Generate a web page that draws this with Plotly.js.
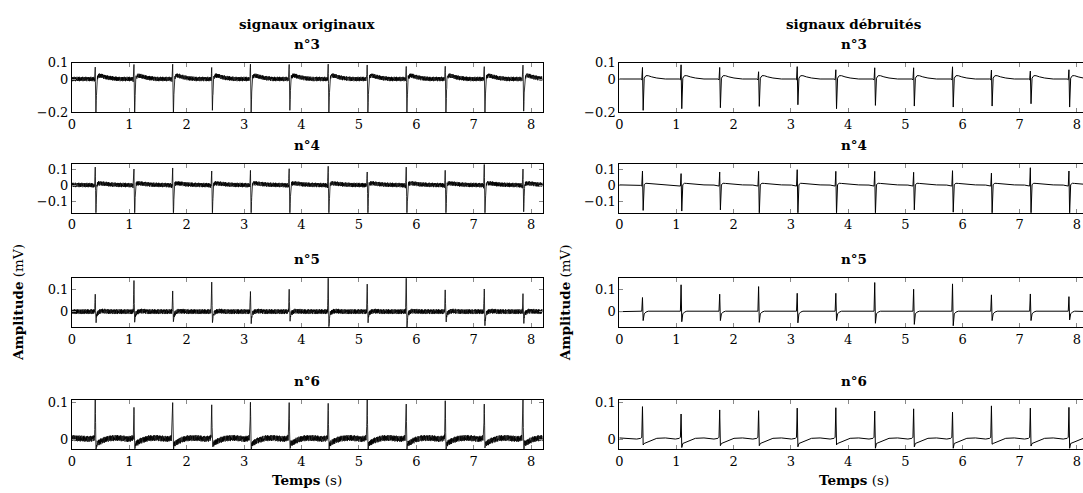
<!DOCTYPE html>
<html><head><meta charset="utf-8">
<script src="https://cdn.plot.ly/plotly-3.0.1.min.js"></script>
<style>html,body{margin:0;padding:0;overflow:hidden;background:#fff}#chart{width:1090px;height:493px}</style>
</head><body><div id="chart"></div>
<script>
// ---- data ----
const beatTimes = [0.405, 1.08, 1.755, 2.435, 3.11, 3.785, 4.465, 5.145, 5.825, 6.505, 7.185, 7.86];
const panelTitles = ["n°3", "n°4", "n°5", "n°6"];
const colTitles = ["signaux originaux", "signaux débruités"];
const xTickVals = [0, 1, 2, 3, 4, 5, 6, 7, 8];

// beat shape offsets (s) around each beat; index 3 = R peak, index 4 = S trough
const waveOffsets = [-0.10, -0.03, -0.012, 0, 0.012, 0.03, 0.06, 0.10, 0.16, 0.25, 0.40];
const waveN3 = [0, 0, -0.005, null, null, 0.005, 0.020, 0.020, 0.013, 0.006, 0.0];
const waveN4 = [0.002, 0, -0.004, null, null, 0.005, 0.013, 0.012, 0.010, 0.006, 0.003];
const waveN5 = [0, 0, 0.002, null, null, -0.010, -0.002, 0.002, 0.002, 0.0, 0.0];
const waveN6 = [0, 0.002, 0.005, null, null, -0.012, -0.010, -0.006, -0.002, 0.002, 0.003];

// R / S amplitudes (mV), original signals
const origR3 = [0.060, 0.088, 0.090, 0.070, 0.090, 0.088, 0.090, 0.085, 0.076, 0.077, 0.072, 0.084];
const origS3 = [-0.21, -0.21, -0.21, -0.19, -0.21, -0.19, -0.21, -0.20, -0.21, -0.21, -0.21, -0.195];
const origR4 = [0.112, 0.088, 0.096, 0.088, 0.092, 0.102, 0.117, 0.082, 0.112, 0.088, 0.125, 0.100];
const origS4 = [-0.18, -0.18, -0.18, -0.18, -0.18, -0.18, -0.18, -0.18, -0.18, -0.18, -0.18, -0.16];
const origR5 = [0.078, 0.139, 0.090, 0.132, 0.090, 0.100, 0.155, 0.123, 0.155, 0.094, 0.094, 0.072];
const origS5 = [-0.049, -0.045, -0.045, -0.040, -0.045, -0.040, -0.067, -0.045, -0.067, -0.045, -0.052, -0.050];
const origR6 = [0.110, 0.086, 0.099, 0.093, 0.100, 0.099, 0.097, 0.099, 0.095, 0.104, 0.095, 0.104];
const origS6 = [-0.024, -0.026, -0.026, -0.021, -0.025, -0.025, -0.027, -0.025, -0.025, -0.025, -0.016, -0.027];

// R / S amplitudes (mV), denoised signals
const denR3 = [0.070, 0.086, 0.070, 0.044, 0.075, 0.056, 0.068, 0.068, 0.074, 0.054, 0.048, 0.056];
const denS3 = [-0.19, -0.18, -0.174, -0.166, -0.156, -0.18, -0.16, -0.164, -0.17, -0.164, -0.15, -0.17];
const denR4 = [0.088, 0.072, 0.082, 0.086, 0.096, 0.086, 0.086, 0.080, 0.090, 0.075, 0.108, 0.088];
const denS4 = [-0.153, -0.157, -0.150, -0.175, -0.175, -0.175, -0.175, -0.150, -0.164, -0.175, -0.175, -0.175];
const denR5 = [0.063, 0.120, 0.078, 0.112, 0.082, 0.082, 0.130, 0.100, 0.124, 0.075, 0.079, 0.067];
const denS5 = [-0.040, -0.045, -0.040, -0.048, -0.050, -0.040, -0.052, -0.057, -0.063, -0.040, -0.040, -0.037];
const denR6 = [0.088, 0.068, 0.079, 0.077, 0.084, 0.085, 0.076, 0.082, 0.073, 0.090, 0.084, 0.086];
const denS6 = [-0.016, -0.023, -0.018, -0.018, -0.021, -0.016, -0.025, -0.021, -0.025, -0.014, -0.019, -0.025];

// typical baseline noise excursions (fraction of band half-width), and band half-width per lead (mV)
const noiseSample = [0.3,-0.5,0.8,-0.2,-0.9,0.4,0.1,-0.6,0.7,-0.1,0.5,-0.8,0.2,0.9,-0.4,-0.3,0.6,-0.7,0.0,0.4,
  -0.9,0.8,-0.2,0.3,-0.5,0.1,0.7,-0.6,-0.1,0.9,-0.3,0.5,-0.8,0.2,-0.4,0.6,0.0,-0.7,0.8,-0.5,
  0.3,-0.2,0.9,-0.9,0.4,0.1,-0.3,0.7,-0.6,0.2,-0.1,0.5,-0.8,0.6,0.3,-0.4,0.0,0.8,-0.7,-0.2,
  0.4,-0.5,0.9,0.1,-0.9,0.6,-0.3,0.2,0.7,-0.6,0.5,-0.1,-0.8,0.3,0.8,-0.4,0.1,-0.7,0.6,-0.2,
  0.9,-0.5,0.0,0.4,-0.3,0.7,-0.9,0.2,0.5,-0.6,0.3,-0.1,0.8,-0.4,0.1,-0.8,0.6];
const noiseBand = [0.015, 0.015, 0.012, 0.009];

const yRanges = [[-0.2, 0.1], [-0.167, 0.129], [-0.07, 0.149], [-0.027, 0.106]];
const yTickVals = [[-0.2, 0, 0.1], [-0.1, 0, 0.1], [0, 0.1], [0, 0.1]];
const xRange = [0, 8.2];

// ---- build traces ----
const waves = [waveN3, waveN4, waveN5, waveN6];
const origR = [origR3, origR4, origR5, origR6], origS = [origS3, origS4, origS5, origS6];
const denR = [denR3, denR4, denR5, denR6], denS = [denS3, denS4, denS5, denS6];

function knots(wave, R, S) {
  const xs = [0], ys = [wave[wave.length - 1]];
  beatTimes.forEach((bt, b) => {
    waveOffsets.forEach((o, k) => {
      xs.push(bt + o);
      ys.push(k === 3 ? R[b] : (k === 4 ? S[b] : wave[k]));
    });
  });
  xs.push(xRange[1]); ys.push(wave[wave.length - 1]);
  return {xs, ys};
}
function valueAt(kn, t) {
  let i = 1;
  while (i < kn.xs.length - 1 && kn.xs[i] < t) i++;
  const x0 = kn.xs[i - 1], x1 = kn.xs[i];
  const f = x1 > x0 ? (t - x0) / (x1 - x0) : 0;
  return kn.ys[i - 1] + f * (kn.ys[i] - kn.ys[i - 1]);
}
function noisy(kn, band, shift) {
  const pts = [];
  kn.xs.forEach((x, i) => pts.push([x, kn.ys[i]]));
  const step = 0.003;
  for (let i = 0; i * step <= xRange[1]; i++) {
    const t = i * step;
    pts.push([t, valueAt(kn, t) + band * noiseSample[(i + shift) % noiseSample.length]]);
  }
  pts.sort((a, b) => a[0] - b[0]);
  return {x: pts.map(p => p[0]), y: pts.map(p => p[1])};
}

const W = 1090, H = 493;
const colX = [[72, 542.5], [619.3, 1088.4]];
const rowY = [[62.5, 112], [164.3, 212.7], [278.3, 327.3], [400, 449]];
const FONT = "DejaVu Serif, Liberation Serif, serif";
const TFS = 13;     // tick labels
const HFS = 13.5;   // bold titles / axis labels

const data = [], layout = {
  width: W, height: H, margin: {l: 0, r: 0, t: 0, b: 0, pad: 0},
  paper_bgcolor: "#fff", plot_bgcolor: "#fff", showlegend: false,
  font: {family: FONT, size: TFS, color: "#000"}, annotations: []
};

for (let r = 0; r < 4; r++) {
  for (let c = 0; c < 2; c++) {
    const k = r * 2 + c + 1;
    const xa = "xaxis" + (k === 1 ? "" : k), ya = "yaxis" + (k === 1 ? "" : k);
    const xr = "x" + (k === 1 ? "" : k), yr = "y" + (k === 1 ? "" : k);
    let tr;
    if (c === 0) {
      const kn = knots(waves[r], origR[r], origS[r]);
      const n = noisy(kn, noiseBand[r], r * 23);
      tr = {x: n.x, y: n.y, line: {color: "#000", width: 0.8}};
    } else {
      const kn = knots(waves[r], denR[r], denS[r]);
      tr = {x: kn.xs, y: kn.ys, line: {color: "#000", width: 1}};
    }
    tr.type = "scatter"; tr.mode = "lines"; tr.xaxis = xr; tr.yaxis = yr; tr.hoverinfo = "skip";
    data.push(tr);
    const common = {showgrid: false, zeroline: false, showline: true, linecolor: "#000", linewidth: 1,
      mirror: "allticks", ticks: "inside", ticklen: 4, tickwidth: 1, tickcolor: "#888",
      tickfont: {family: FONT, size: TFS, color: "#000"}, fixedrange: true};
    layout[xa] = Object.assign({}, common, {
      domain: [colX[c][0] / W, colX[c][1] / W], range: xRange, anchor: yr,
      tickmode: "array", tickvals: xTickVals, ticktext: xTickVals.map(String)});
    layout[ya] = Object.assign({}, common, {
      domain: [1 - rowY[r][1] / H, 1 - rowY[r][0] / H], range: yRanges[r], anchor: xr,
      tickmode: "array", tickvals: yTickVals[r], ticktext: yTickVals[r].map(v => v < 0 ? "\u2212" + Math.abs(v) : String(v))});
    const cx = (colX[c][0] + colX[c][1]) / 2 / W;
    layout.annotations.push({text: "<b>" + panelTitles[r] + "</b>", xref: "paper", yref: "paper",
      x: cx, y: 1 - (rowY[r][0] - 19) / H, xanchor: "center", yanchor: "middle", showarrow: false,
      font: {family: FONT, size: HFS, color: "#000"}});
    if (r === 0) {
      layout.annotations.push({text: "<b>" + colTitles[c] + "</b>", xref: "paper", yref: "paper",
        x: cx, y: 1 - 24 / H, xanchor: "center", yanchor: "middle", showarrow: false,
        font: {family: FONT, size: HFS, color: "#000"}});
    }
    if (r === 2) {
      layout.annotations.push({text: "<b>Amplitude</b> (mV)", xref: "paper", yref: "paper",
        x: (colX[c][0] - 54) / W, y: 1 - 303 / H, xanchor: "center", yanchor: "middle", textangle: -90,
        showarrow: false, font: {family: FONT, size: HFS, color: "#000"}});
    }
    if (r === 3) {
      layout.annotations.push({text: "<b>Temps</b> (s)", xref: "paper", yref: "paper",
        x: cx, y: 1 - 480 / H, xanchor: "center", yanchor: "middle", showarrow: false,
        font: {family: FONT, size: HFS, color: "#000"}});
    }
  }
}
Plotly.newPlot("chart", data, layout, {staticPlot: true, displayModeBar: false});
</script></body></html>
